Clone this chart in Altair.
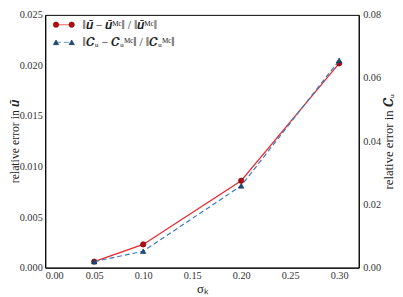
import altair as alt
import pandas as pd

sigma = [0.05, 0.10, 0.20, 0.30]
err_u = [0.0006, 0.0023, 0.0086, 0.0202]
err_C = [0.0019, 0.0052, 0.0259, 0.0656]

x_ticks = [0.0, 0.05, 0.10, 0.15, 0.20, 0.25, 0.30]
yl_ticks = [0.0, 0.005, 0.010, 0.015, 0.020, 0.025]
yr_ticks = [0.0, 0.02, 0.04, 0.06, 0.08]

label_u = "‖𝒖̄ − 𝒖̄ᴹᶜ‖ / ‖𝒖̄ᴹᶜ‖"
label_C = "‖𝑪ᵤ − 𝑪ᵤᴹᶜ‖ / ‖𝑪ᵤᴹᶜ‖"

df = pd.DataFrame({"sigma": sigma, "u": err_u, "C": err_C})

FONT = "Liberation Serif"
RED = "#e8262b"
RED_M = "#b50d10"
BLUE = "#3a78c0"
BLUE_M = "#1b4f80"

W, H = 320, 258

xenc = alt.X("sigma:Q", scale=alt.Scale(domain=[0, 0.32], nice=False),
             axis=alt.Axis(values=x_ticks, format=".2f", title="σₖ", grid=False,
                           ticks=False, labelPadding=3, titleY=15, titleFontSize=13))

base = alt.Chart(df)

yl = alt.Y("u:Q", scale=alt.Scale(domain=[0, 0.025], nice=False),
           axis=alt.Axis(values=yl_ticks, format=".3f", title="relative error in 𝒖̄",
                         grid=False, ticks=False, labelPadding=3,
                         titleX=-31, titleY=H / 2, titleAngle=270, titleBaseline="middle",
                         titleFontSize=12))
yr = alt.Y("C:Q", scale=alt.Scale(domain=[0, 0.08], nice=False),
           axis=alt.Axis(values=yr_ticks, format=".2f", title="relative error in 𝑪ᵤ",
                         orient="right", grid=False, ticks=False, labelPadding=4,
                         titleX=30, titleY=H / 2, titleAngle=270, titleBaseline="middle"))

red_line = base.mark_line(color=RED, strokeWidth=1.2).encode(x=xenc, y=yl)
red_pts = base.mark_point(filled=True, shape="circle", size=30, color=RED_M,
                          stroke="#6a0000", strokeWidth=0.6, opacity=1).encode(x=xenc, y=yl)
blue_line = base.mark_line(color=BLUE, strokeWidth=1.2, strokeDash=[5, 3]).encode(x=xenc, y=yr)
blue_pts = base.mark_point(filled=True, shape="triangle-up", size=30, color=BLUE_M,
                           stroke="#0b2a48", strokeWidth=0.6, opacity=1).encode(x=xenc, y=yr)

left = alt.layer(red_line, red_pts)
right = alt.layer(blue_line, blue_pts)

# legend (custom, top-left inside plot)
R1, R2 = 10, 28
leg = pd.DataFrame({"a": [0]})
lb = alt.Chart(leg)
leg_layers = [
    lb.mark_rule(color=RED, strokeWidth=1.2, opacity=0.6).encode(
        x=alt.value(11), x2=alt.value(27), y=alt.value(R1)),
    lb.mark_point(filled=True, shape="circle", size=30, color=RED_M, stroke="#6a0000",
                  strokeWidth=0.6, opacity=1).encode(x=alt.value(11), y=alt.value(R1)),
    lb.mark_point(filled=True, shape="circle", size=30, color=RED_M, stroke="#6a0000",
                  strokeWidth=0.6, opacity=1).encode(x=alt.value(27), y=alt.value(R1)),
    lb.mark_text(text=label_u, align="left", baseline="middle", font=FONT, fontSize=12,
                 color="#222").encode(x=alt.value(38), y=alt.value(R1)),
    lb.mark_rule(color=BLUE, strokeWidth=1.2, strokeDash=[5, 3], opacity=0.6).encode(
        x=alt.value(11), x2=alt.value(27), y=alt.value(R2)),
    lb.mark_point(filled=True, shape="triangle-up", size=30, color=BLUE_M, stroke="#0b2a48",
                  strokeWidth=0.6, opacity=1).encode(x=alt.value(11), y=alt.value(R2)),
    lb.mark_point(filled=True, shape="triangle-up", size=30, color=BLUE_M, stroke="#0b2a48",
                  strokeWidth=0.6, opacity=1).encode(x=alt.value(27), y=alt.value(R2)),
    lb.mark_text(text=label_C, align="left", baseline="middle", font=FONT, fontSize=12,
                 color="#222").encode(x=alt.value(38), y=alt.value(R2)),
]

chart = alt.layer(left, right, *leg_layers).resolve_scale(y="independent").properties(
    width=W, height=H,
    autosize=alt.AutoSizeParams(type="none"),
    padding={"left": 38, "top": 4, "right": 37, "bottom": 30},
).configure_view(stroke="#000", strokeWidth=1).configure_axis(
    labelFont=FONT, titleFont=FONT, labelFontSize=10.5, titleFontSize=13,
    labelColor="#333", titleColor="#222", titleFontWeight="normal",
    domainColor="#000", domainWidth=1,
)

chart.save("out.html", embed_options={"renderer": "svg", "actions": False})
